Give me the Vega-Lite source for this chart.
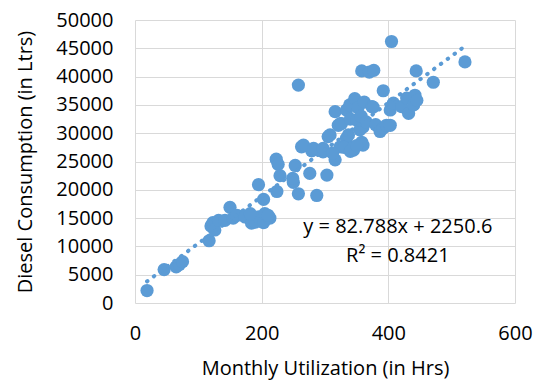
{
  "$schema": "https://vega.github.io/schema/vega-lite/v6.json",
  "width": 380,
  "height": 283,
  "autosize": "none",
  "padding": {"left": 135, "top": 20, "right": 24, "bottom": 81},
  "config": {"view": {"stroke": null}, "font": "Open Sans"},
  "datasets": {
    "pts": [
      {"hrs": 19, "diesel": 2200}, {"hrs": 46, "diesel": 5900}, {"hrs": 65, "diesel": 6400}, {"hrs": 70, "diesel": 6800}, {"hrs": 75, "diesel": 7300},
      {"hrs": 117, "diesel": 11000}, {"hrs": 120, "diesel": 13600}, {"hrs": 123, "diesel": 14200}, {"hrs": 126, "diesel": 12900}, {"hrs": 132, "diesel": 14600},
      {"hrs": 142, "diesel": 14600}, {"hrs": 150, "diesel": 16900}, {"hrs": 155, "diesel": 15000}, {"hrs": 161, "diesel": 15500}, {"hrs": 174, "diesel": 15200},
      {"hrs": 184, "diesel": 14100}, {"hrs": 190, "diesel": 14300}, {"hrs": 195, "diesel": 15200}, {"hrs": 203, "diesel": 14200}, {"hrs": 205, "diesel": 15800},
      {"hrs": 213, "diesel": 15000}, {"hrs": 195, "diesel": 20900}, {"hrs": 203, "diesel": 18300}, {"hrs": 224, "diesel": 19700}, {"hrs": 223, "diesel": 25400},
      {"hrs": 226, "diesel": 24500}, {"hrs": 229, "diesel": 22500}, {"hrs": 253, "diesel": 24300}, {"hrs": 250, "diesel": 21300}, {"hrs": 258, "diesel": 19300},
      {"hrs": 263, "diesel": 27600}, {"hrs": 276, "diesel": 22900}, {"hrs": 279, "diesel": 26900}, {"hrs": 287, "diesel": 19000}, {"hrs": 297, "diesel": 26700},
      {"hrs": 303, "diesel": 22600}, {"hrs": 305, "diesel": 29400}, {"hrs": 316, "diesel": 25300}, {"hrs": 324, "diesel": 31700}, {"hrs": 334, "diesel": 29100},
      {"hrs": 345, "diesel": 27000}, {"hrs": 358, "diesel": 28400}, {"hrs": 360, "diesel": 31100}, {"hrs": 258, "diesel": 38500}, {"hrs": 324, "diesel": 27600},
      {"hrs": 308, "diesel": 29700}, {"hrs": 316, "diesel": 33800}, {"hrs": 321, "diesel": 31400}, {"hrs": 326, "diesel": 31700}, {"hrs": 330, "diesel": 27500},
      {"hrs": 334, "diesel": 34100}, {"hrs": 337, "diesel": 29700}, {"hrs": 339, "diesel": 35000}, {"hrs": 340, "diesel": 32500}, {"hrs": 345, "diesel": 27500},
      {"hrs": 347, "diesel": 36100}, {"hrs": 350, "diesel": 32300}, {"hrs": 352, "diesel": 34500}, {"hrs": 355, "diesel": 30600}, {"hrs": 357, "diesel": 33000},
      {"hrs": 360, "diesel": 27900}, {"hrs": 362, "diesel": 35500}, {"hrs": 365, "diesel": 32000}, {"hrs": 374, "diesel": 34700}, {"hrs": 376, "diesel": 34600},
      {"hrs": 380, "diesel": 31500}, {"hrs": 387, "diesel": 30300}, {"hrs": 392, "diesel": 30900}, {"hrs": 397, "diesel": 31400}, {"hrs": 403, "diesel": 31400},
      {"hrs": 403, "diesel": 34100}, {"hrs": 408, "diesel": 35300}, {"hrs": 421, "diesel": 34700}, {"hrs": 429, "diesel": 36200}, {"hrs": 432, "diesel": 33500},
      {"hrs": 440, "diesel": 35000}, {"hrs": 442, "diesel": 36700}, {"hrs": 445, "diesel": 35800}, {"hrs": 444, "diesel": 41000}, {"hrs": 471, "diesel": 39000},
      {"hrs": 521, "diesel": 42600}, {"hrs": 405, "diesel": 46200}, {"hrs": 392, "diesel": 37500}, {"hrs": 358, "diesel": 41000}, {"hrs": 370, "diesel": 40800},
      {"hrs": 377, "diesel": 41100}, {"hrs": 266, "diesel": 27900}, {"hrs": 282, "diesel": 27300}, {"hrs": 297, "diesel": 27300}, {"hrs": 312, "diesel": 26500},
      {"hrs": 340, "diesel": 26800}, {"hrs": 350, "diesel": 27800}, {"hrs": 210, "diesel": 15500}, {"hrs": 182, "diesel": 15800}, {"hrs": 249, "diesel": 22000}
    ],
    "trend": [{"hrs": 19, "diesel": 3823.6}, {"hrs": 521, "diesel": 45383.1}],
    "labels": [
      {"hrs": 415, "diesel": 13400, "text": "y = 82.788x + 2250.6"},
      {"hrs": 415, "diesel": 8250, "text": "R² = 0.8421"}
    ]
  },
  "encoding": {
    "x": {
      "field": "hrs", "type": "quantitative",
      "scale": {"domain": [0, 600], "nice": false},
      "axis": {
        "title": "Monthly Utilization (in Hrs)", "values": [0, 200, 400, 600], "format": "d", "labelFlush": false,
        "grid": true, "gridColor": "#d9d9d9", "gridWidth": 1, "domain": false, "ticks": false,
        "labelFontSize": 20, "labelColor": "#000000", "labelPadding": 20, "labelFont": "Open Sans",
        "titleFontSize": 20, "titleFontWeight": "normal", "titleColor": "#000000", "titlePadding": 15, "titleFont": "Open Sans"
      }
    },
    "y": {
      "field": "diesel", "type": "quantitative",
      "scale": {"domain": [0, 50000], "nice": false},
      "axis": {
        "title": "Diesel Consumption (in Ltrs)", "values": [0, 5000, 10000, 15000, 20000, 25000, 30000, 35000, 40000, 45000, 50000], "format": "d", "labelFlush": false,
        "grid": true, "gridColor": "#d9d9d9", "gridWidth": 1, "domain": false, "ticks": false,
        "labelFontSize": 20, "labelColor": "#000000", "labelPadding": 22, "labelFont": "Open Sans",
        "titleFontSize": 20, "titleFontWeight": "normal", "titleColor": "#000000", "titlePadding": 20, "titleFont": "Open Sans"
      }
    }
  },
  "layer": [
    {"data": {"name": "pts"}, "mark": {"type": "circle", "size": 175, "color": "#5b9bd5", "opacity": 1}},
    {"data": {"name": "trend"}, "mark": {"type": "line", "color": "#5b9bd5", "strokeWidth": 4, "strokeDash": [0.5, 8], "strokeCap": "round"}},
    {"data": {"name": "labels"}, "mark": {"type": "text", "fontSize": 20, "font": "Open Sans", "color": "#000000", "align": "center", "baseline": "middle"}, "encoding": {"text": {"field": "text"}}}
  ]
}
